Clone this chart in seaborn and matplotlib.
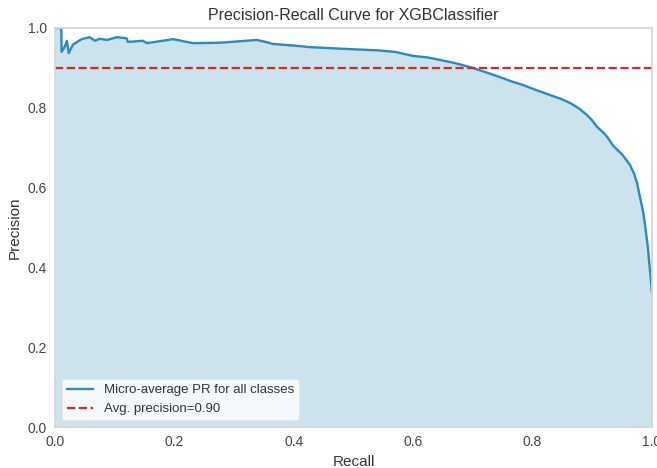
import numpy as np
import pandas as pd
import matplotlib
matplotlib.use("Agg")
import matplotlib.pyplot as plt
import seaborn as sns

# Micro-average precision-recall curve
recall = [0.000, 0.0105, 0.011, 0.016, 0.020, 0.023, 0.030, 0.038, 0.045,
          0.058, 0.067, 0.075, 0.087, 0.104, 0.120, 0.122, 0.147, 0.154,
          0.198, 0.231, 0.276, 0.338, 0.350, 0.365, 0.400, 0.427, 0.480,
          0.540, 0.570, 0.600, 0.625, 0.645, 0.670, 0.695, 0.720, 0.745,
          0.765, 0.784, 0.805, 0.829, 0.848, 0.863, 0.878, 0.891, 0.900,
          0.908, 0.917, 0.925, 0.935, 0.950, 0.963, 0.970, 0.975, 0.980,
          0.985, 0.988, 0.993, 0.997, 1.000]
precision = [1.000, 1.000, 0.940, 0.952, 0.968, 0.937, 0.958, 0.966, 0.972,
             0.977, 0.968, 0.973, 0.970, 0.977, 0.974, 0.965, 0.968, 0.962,
             0.972, 0.962, 0.963, 0.970, 0.966, 0.960, 0.956, 0.952, 0.948,
             0.944, 0.940, 0.930, 0.926, 0.920, 0.912, 0.902, 0.890, 0.877,
             0.866, 0.857, 0.845, 0.832, 0.822, 0.812, 0.798, 0.782, 0.768,
             0.752, 0.740, 0.727, 0.705, 0.683, 0.657, 0.635, 0.611, 0.575,
             0.540, 0.511, 0.451, 0.386, 0.336]
avg_precision = 0.90

df = pd.DataFrame({"Recall": recall, "Precision": precision})

sns.set_theme(style="white")
plt.rcParams["font.family"] = ["Liberation Sans", "DejaVu Sans"]

line_color = "#2a8bbd"
fill_color = "#0272a2"
red = "#d62a22"

fig = plt.figure(figsize=(6.57, 4.68), dpi=100)
ax = fig.add_axes([0.0837, 0.0876, 0.9087, 0.8526])

ax.fill_between(df["Recall"], df["Precision"],
                color=fill_color, alpha=0.2, linewidth=0)
sns.lineplot(data=df, x="Recall", y="Precision", ax=ax, color=line_color,
             linewidth=1.7, sort=False,
             label="Micro-average PR for all classes")
ax.axhline(avg_precision, color=red, ls="--", linewidth=1.6,
           label="Avg. precision={:0.2f}".format(avg_precision))

ax.set_xlim(0, 1)
ax.set_ylim(0, 1)
ax.set_xticks([0.0, 0.2, 0.4, 0.6, 0.8, 1.0])
ax.set_yticks([0.0, 0.2, 0.4, 0.6, 0.8, 1.0])
ax.tick_params(labelsize=10, colors="#444444", length=0, pad=6)
ax.set_title("Precision-Recall Curve for XGBClassifier", fontsize=11.5,
             color="#333333", pad=6)
ax.set_xlabel("Recall", fontsize=11, color="#333333", labelpad=4)
ax.set_ylabel("Precision", fontsize=11, color="#333333", labelpad=4)
for s in ax.spines.values():
    s.set_color("#d5d5d5")
ax.grid(False)

leg = ax.legend(loc="lower left", fontsize=9.5, frameon=True,
                facecolor="white", framealpha=0.8, edgecolor="#e6e6e6")
for t in leg.get_texts():
    t.set_color("#333333")

fig.savefig("out.png", dpi=100)
